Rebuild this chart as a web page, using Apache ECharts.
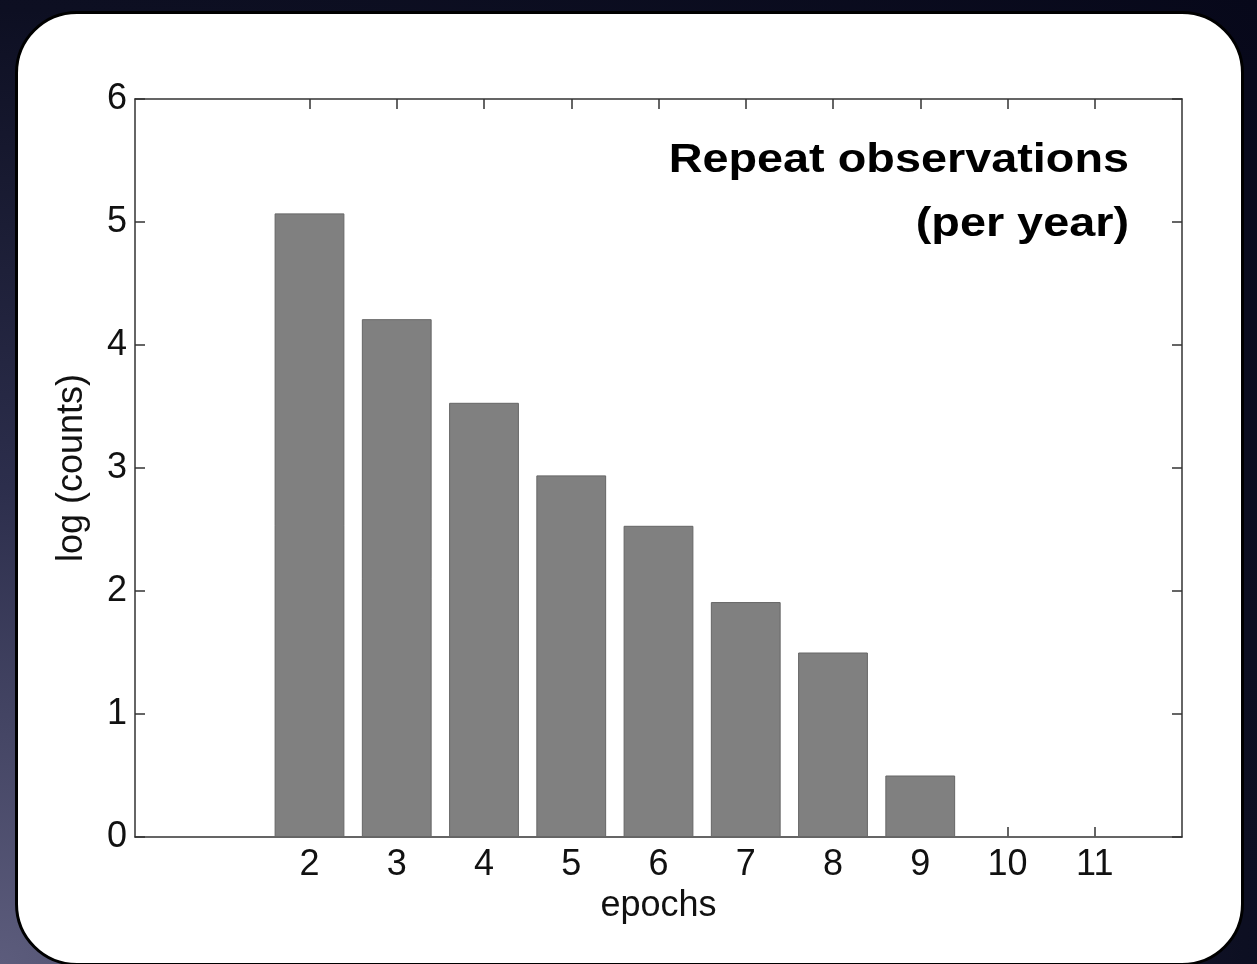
<!DOCTYPE html>
<html>
<head>
<meta charset="utf-8">
<script src="https://cdn.jsdelivr.net/npm/echarts@6/dist/echarts.min.js"></script>
<style>
html,body{margin:0;padding:0;width:1257px;height:964px;overflow:hidden;}
body{background:radial-gradient(ellipse at 0% 100%, #5c5c7c 0%, #2c2e4c 35%, #0d0f22 70%, #07081a 100%);}
#panel{position:absolute;left:15px;top:11px;width:1229px;height:955px;background:#fff;border:3px solid #000;border-radius:62px;box-sizing:border-box;}
#chart{position:absolute;left:0;top:0;width:1257px;height:964px;}
</style>
</head>
<body>
<div id="panel"></div>
<div id="chart"></div>
<script>
var epochs = [2, 3, 4, 5, 6, 7, 8, 9, 10, 11];
var logCounts = [5.07, 4.21, 3.53, 2.94, 2.53, 1.91, 1.50, 0.50, 0, 0];
var xTicks = [2, 3, 4, 5, 6, 7, 8, 9, 10, 11];
var yTicks = [0, 1, 2, 3, 4, 5, 6];
var titleLines = ['Repeat observations', '(per year)'];

var font = '"Liberation Sans", Arial, sans-serif';
var lineCol = '#333';
var labelSize = 36;
var chart = echarts.init(document.getElementById('chart'), null, {renderer: 'canvas'});
var data = epochs.map(function (e, i) { return [e, logCounts[i]]; });

var xBase = {
  type: 'value', min: 0, max: 12, interval: 1,
  axisLine: {show: true, onZero: false, lineStyle: {color: lineCol, width: 1.5}},
  axisTick: {show: true, inside: true, length: 10, customValues: xTicks, lineStyle: {color: lineCol, width: 1.5}},
  splitLine: {show: false}
};
var yBase = {
  type: 'value', min: 0, max: 6, interval: 1,
  axisLine: {show: true, onZero: false, lineStyle: {color: lineCol, width: 1.5}},
  axisTick: {show: true, inside: true, length: 10, customValues: yTicks, lineStyle: {color: lineCol, width: 1.5}},
  splitLine: {show: false}
};

chart.setOption({
  animation: false,
  backgroundColor: 'transparent',
  grid: {left: 135, top: 99, right: 75, bottom: 127, containLabel: false},
  xAxis: [
    Object.assign({}, xBase, {
      position: 'bottom',
      name: 'epochs', nameLocation: 'middle', nameGap: 46,
      nameTextStyle: {fontFamily: font, fontSize: labelSize, color: '#111'},
      axisLabel: {show: true, customValues: xTicks, margin: 10, fontFamily: font, fontSize: labelSize, color: '#111'}
    }),
    Object.assign({}, xBase, {position: 'top', axisLabel: {show: false}})
  ],
  yAxis: [
    Object.assign({}, yBase, {
      position: 'left',
      name: 'log (counts)', nameLocation: 'middle', nameGap: 45,
      nameTextStyle: {fontFamily: font, fontSize: labelSize, color: '#111'},
      axisLabel: {show: true, customValues: yTicks, margin: 8, fontFamily: font, fontSize: labelSize, color: '#111'}
    }),
    Object.assign({}, yBase, {position: 'right', axisLabel: {show: false}})
  ],
  series: [{
    type: 'bar',
    xAxisIndex: 0, yAxisIndex: 0,
    data: data,
    barWidth: '80%',
    itemStyle: {color: '#808080', borderColor: '#666', borderWidth: 1}
  }],
  graphic: [{
    type: 'text',
    x: 1129, y: 161,
    scaleX: 1.17,
    style: {
      text: titleLines[0],
      font: 'bold 40px ' + font,
      fill: '#000',
      align: 'right',
      verticalAlign: 'middle'
    }
  }, {
    type: 'text',
    x: 1129, y: 225,
    scaleX: 1.17,
    style: {
      text: titleLines[1],
      font: 'bold 40px ' + font,
      fill: '#000',
      align: 'right',
      verticalAlign: 'middle'
    }
  }]
});
</script>
</body>
</html>
